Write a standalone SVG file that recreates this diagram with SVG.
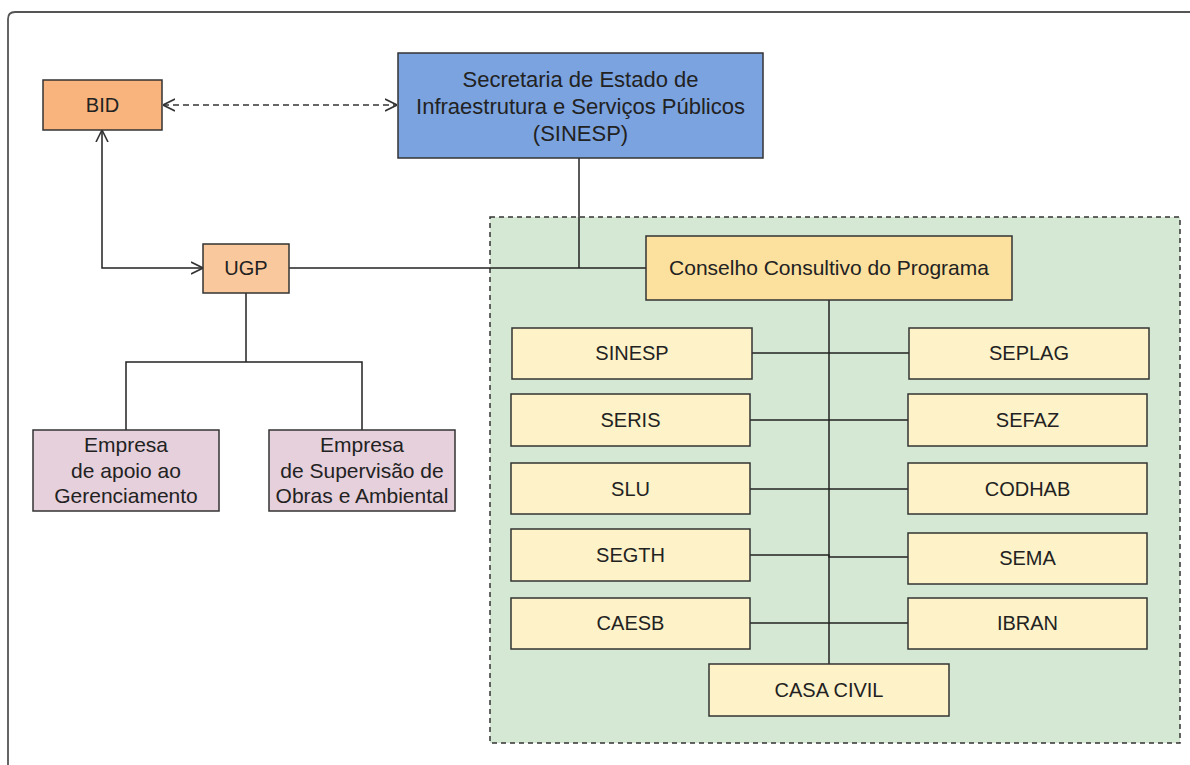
<svg xmlns="http://www.w3.org/2000/svg" width="1190" height="765" viewBox="0 0 1190 765">
<style>
.box{stroke:#333;stroke-width:1.5}
.t{font-family:"Liberation Sans",Arial,sans-serif;fill:#222;text-anchor:middle}
.s20{font-size:20px}
.s21{font-size:21px}
.s22{font-size:22px}
.ln{fill:none;stroke:#222;stroke-width:1.5}
.small{fill:#fdf2c8}
</style>
<defs>
<marker id="arr" viewBox="0 0 12 14" refX="12" refY="7" markerWidth="12" markerHeight="14" markerUnits="userSpaceOnUse" orient="auto-start-reverse">
<path d="M0,1 L12,7 L0,13" fill="none" stroke="#333" stroke-width="1.6"/>
</marker>
</defs>
<rect width="1190" height="765" fill="#fff"/>
<path d="M8 765 L8 19 Q8 12 15 12 L1190 12" fill="none" stroke="#555" stroke-width="1.8"/>
<g id="container">
<rect x="490" y="217" width="690" height="526" fill="#d5e8d4" stroke="#333" stroke-width="1.5" stroke-dasharray="5 4"/>
</g>
<g id="connectors">
<line x1="163" y1="105" x2="397" y2="105" stroke="#666" stroke-width="2" stroke-dasharray="6 4" marker-start="url(#arr)" marker-end="url(#arr)"/>
<path class="ln" d="M102 130 V268 H203" marker-start="url(#arr)" marker-end="url(#arr)"/>
<path class="ln" d="M579 158 V268"/>
<path class="ln" d="M289 268 H646"/>
<path class="ln" d="M246 293 V362"/>
<path class="ln" d="M126 430 V362 H362 V430"/>
<path class="ln" d="M829 300 V664"/>
<path class="ln" d="M752 353 H909"/>
<path class="ln" d="M750 420 H908"/>
<path class="ln" d="M750 489 H908"/>
<path class="ln" d="M750 555 H829 V557 H908"/>
<path class="ln" d="M750 623 H908"/>
</g>
<g id="bid">
<rect class="box" x="43" y="80" width="119" height="50" fill="#f8b47c"/>
<text class="t s20" x="102.5" y="112">BID</text>
</g>
<g id="sinesp-main">
<rect class="box" x="398" y="53" width="365" height="105" fill="#7ba3df"/>
<text class="t s22" x="580.5" y="87">Secretaria de Estado de</text>
<text class="t s22" x="580.5" y="114">Infraestrutura e Serviços Públicos</text>
<text class="t s22" x="580.5" y="141">(SINESP)</text>
</g>
<g id="ugp">
<rect class="box" x="203" y="244" width="86" height="49" fill="#f9c89c"/>
<text class="t s20" x="246" y="275">UGP</text>
</g>
<g id="empresa-apoio">
<rect class="box" x="33" y="430" width="186" height="81" fill="#e6d0dc"/>
<text class="t s21" x="126" y="452">Empresa</text>
<text class="t s21" x="126" y="478">de apoio ao</text>
<text class="t s21" x="126" y="503">Gerenciamento</text>
</g>
<g id="empresa-supervisao">
<rect class="box" x="269" y="430" width="186" height="81" fill="#e6d0dc"/>
<text class="t s21" x="362" y="452">Empresa</text>
<text class="t s21" x="362" y="478">de Supervisão de</text>
<text class="t s21" x="362" y="503">Obras e Ambiental</text>
</g>
<g id="conselho">
<rect class="box" x="646" y="236" width="366" height="64" fill="#fce09e"/>
<text class="t s21" x="829" y="275">Conselho Consultivo do Programa</text>
</g>
<g id="sinesp">
<rect class="box small" x="512" y="328" width="240" height="51"/>
<text class="t s20" x="632" y="360">SINESP</text>
</g>
<g id="seplag">
<rect class="box small" x="909" y="328" width="240" height="51"/>
<text class="t s20" x="1029" y="360">SEPLAG</text>
</g>
<g id="seris">
<rect class="box small" x="511" y="394" width="239" height="52"/>
<text class="t s20" x="630.5" y="427">SERIS</text>
</g>
<g id="sefaz">
<rect class="box small" x="908" y="394" width="239" height="52"/>
<text class="t s20" x="1027.5" y="427">SEFAZ</text>
</g>
<g id="slu">
<rect class="box small" x="511" y="463" width="239" height="51"/>
<text class="t s20" x="630.5" y="496">SLU</text>
</g>
<g id="codhab">
<rect class="box small" x="908" y="463" width="239" height="51"/>
<text class="t s20" x="1027.5" y="496">CODHAB</text>
</g>
<g id="segth">
<rect class="box small" x="511" y="529" width="239" height="52"/>
<text class="t s20" x="630.5" y="562">SEGTH</text>
</g>
<g id="sema">
<rect class="box small" x="908" y="533" width="239" height="51"/>
<text class="t s20" x="1027.5" y="565">SEMA</text>
</g>
<g id="caesb">
<rect class="box small" x="511" y="598" width="239" height="51"/>
<text class="t s20" x="630.5" y="630">CAESB</text>
</g>
<g id="ibran">
<rect class="box small" x="908" y="598" width="239" height="51"/>
<text class="t s20" x="1027.5" y="630">IBRAN</text>
</g>
<g id="casa-civil">
<rect class="box small" x="709" y="664" width="240" height="52"/>
<text class="t s20" x="829" y="697">CASA CIVIL</text>
</g>
</svg>
